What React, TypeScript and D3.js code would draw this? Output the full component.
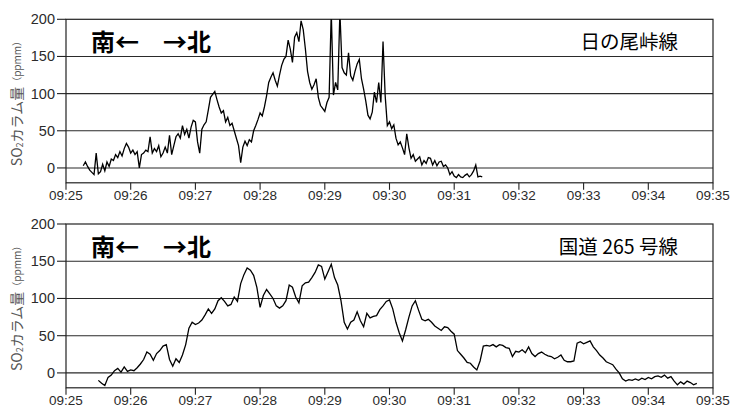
import React from "react";
import * as d3 from "d3";

// ---------- data ----------
const timeTickLabels = ["09:25", "09:26", "09:27", "09:28", "09:29", "09:30", "09:31", "09:32", "09:33", "09:34", "09:35"];
const yTickValues = [0, 50, 100, 150, 200];
const gridValues = [0, 50, 100, 150];
const yDomain = [-20, 200];

const directionLabel = "南←　→北";
const panelTitles = ["日の尾峠線", "国道 265 号線"];

// 日の尾峠線: samples every 2 s starting 09:25:16
const topStartSec = 16;
const topStepSec = 2;
const topValues = [
  3, 8, 2, -3, -6, -9, 20, -8, -5, 5, -4, 8, 2, 12, 10, 18, 14, 22, 16, 26,
  33, 28, 20, 24, 18, 22, 0, 18, 20, 24, 22, 42, 20, 26, 22, 30, 15, 20, 28, 20,
  44, 18, 30, 42, 46, 40, 57, 45, 52, 40, 55, 64, 62, 35, 20, 52, 58, 62, 78, 95,
  99, 103, 92, 82, 74, 77, 62, 68, 57, 60, 50, 40, 30, 7, 28, 36, 30, 38, 35, 50,
  57, 65, 74, 70, 82, 97, 115, 122, 128, 118, 110, 125, 138, 146, 150, 172, 160, 142, 176, 182,
  170, 198, 186, 160, 130, 115, 106, 112, 120, 95, 84, 80, 76, 88, 95, 210, 98, 115, 105, 210,
  135, 128, 125, 155, 124, 118, 130, 140, 146, 120, 106, 90, 71, 66, 75, 102, 88, 115, 88, 170,
  97, 57, 62, 53, 58, 40, 31, 35, 27, 18, 46, 27, 13, 18, 9, 12, 15, 4, 10, 6,
  14, 13, 4, 10, 3, 8, 9, 2, 4, 0, -9, -5, -11, -13, -9, -12, -13, -10, -8, -12,
  -9, -4, 4, -12, -11, -12,
];

// 国道 265 号線: samples every 3 s starting 09:25:30
const bottomStartSec = 30;
const bottomStepSec = 3;
const bottomValues = [
  -10, -14, -17, -6, -3, 3, 6, 1, 8, 2, 4, 3, 7, 12, 18, 28, 25, 17, 26, 30,
  36, 38, 18, 9, 19, 14, 24, 38, 60, 68, 65, 67, 71, 78, 86, 80, 86, 97, 101, 96,
  90, 92, 102, 96, 120, 132, 141, 138, 131, 115, 88, 104, 112, 106, 100, 90, 87, 90, 97, 118,
  115, 102, 94, 117, 121, 122, 128, 135, 145, 143, 126, 136, 146, 128, 118, 97, 68, 59, 68, 71,
  82, 70, 62, 80, 74, 76, 77, 85, 90, 96, 98, 86, 68, 54, 43, 58, 75, 90, 97, 84,
  72, 70, 72, 68, 63, 60, 57, 62, 61, 56, 52, 30, 25, 20, 14, 13, 8, 4, 16, 36,
  37, 36, 38, 35, 38, 37, 34, 33, 22, 29, 28, 31, 27, 35, 26, 22, 26, 28, 25, 23,
  22, 19, 21, 24, 17, 15, 15, 16, 40, 42, 39, 41, 43, 35, 30, 24, 20, 15, 13, 11,
  5, 0, -8, -11, -9, -10, -8, -10, -7, -9, -6, -8, -5, -4, -6, -3, -7, -5, -11, -16,
  -12, -15, -11, -13, -16, -14,
];

// ---------- layout ----------
const W = 733;
const H = 408;
const plotLeft = 66;
const plotRight = 713;
const panels = [
  { top: 19.3, bottom: 182.8, startSec: topStartSec, stepSec: topStepSec, values: topValues, title: panelTitles[0] },
  { top: 224, bottom: 387.8, startSec: bottomStartSec, stepSec: bottomStepSec, values: bottomValues, title: panelTitles[1] },
];

const base = new Date(2000, 0, 1, 9, 25, 0);
const toDate = (sec: number) => new Date(base.getTime() + sec * 1000);
const parseHM = d3.timeParse("%H:%M");
const tickDates = timeTickLabels.map((t) => {
  const p = parseHM(t)!;
  return new Date(2000, 0, 1, p.getHours(), p.getMinutes(), 0);
});

const x = d3
  .scaleTime()
  .domain([tickDates[0], tickDates[tickDates.length - 1]])
  .range([plotLeft, plotRight]);

const fmt = d3.timeFormat("%H:%M");

const latin = "'Liberation Sans', Arial, sans-serif";
const cjk = "'Noto Sans CJK JP', 'Noto Sans', sans-serif";

function Panel({ idx }: { idx: number }) {
  const p = panels[idx];
  const y = d3.scaleLinear().domain(yDomain).range([p.bottom, p.top]);
  const pts = p.values.map((v, i) => ({ t: toDate(p.startSec + i * p.stepSec), v }));
  const line = d3
    .line<{ t: Date; v: number }>()
    .x((d) => x(d.t))
    .y((d) => y(d.v));
  const clipId = `clip-${idx}`;
  const midY = (p.top + p.bottom) / 2;
  return (
    <g>
      <defs>
        <clipPath id={clipId}>
          <rect x={plotLeft} y={p.top} width={plotRight - plotLeft} height={p.bottom - p.top} />
        </clipPath>
      </defs>
      {/* grid lines */}
      {gridValues.map((g) => (
        <line key={g} x1={plotLeft} x2={plotRight} y1={y(g)} y2={y(g)} stroke="#2a2a2a" strokeWidth={1.1} />
      ))}
      {/* frame */}
      <rect x={plotLeft} y={p.top} width={plotRight - plotLeft} height={p.bottom - p.top} fill="none" stroke="#222" strokeWidth={1.2} />
      {/* y ticks */}
      {yTickValues.map((v) => (
        <g key={v}>
          <line x1={plotLeft - 9} x2={plotLeft} y1={y(v)} y2={y(v)} stroke="#222" strokeWidth={1.1} />
          <text x={plotLeft - 11} y={y(v)} textAnchor="end" dominantBaseline="central" fontFamily={latin} fontSize={14.5} fill="#2b2b2b">
            {v}
          </text>
        </g>
      ))}
      {/* x ticks */}
      {tickDates.map((d, i) => (
        <g key={i}>
          <line x1={x(d)} x2={x(d)} y1={p.bottom} y2={p.bottom + 7} stroke="#222" strokeWidth={1.1} />
          <text x={x(d)} y={p.bottom + 17} textAnchor="middle" fontFamily={latin} fontSize={13.5} fill="#2b2b2b">
            {fmt(d)}
          </text>
        </g>
      ))}
      {/* data line */}
      <path d={line(pts) || ""} fill="none" stroke="#000" strokeWidth={1.3} clipPath={`url(#${clipId})`} strokeLinejoin="miter" />
      {/* annotations */}
      <text x={91} y={p.top + 21.5} dominantBaseline="central" fontFamily={cjk} fontWeight={700} fontSize={24} fill="#000">
        {directionLabel}
      </text>
      <text x={678} y={p.top + 21} textAnchor="end" dominantBaseline="central" fontFamily={cjk} fontSize={19.5} fill="#000">
        {p.title}
      </text>
      {/* y axis title */}
      <text transform={`translate(16, ${midY}) rotate(-90)`} textAnchor="middle" dominantBaseline="central" fontFamily={cjk} fontSize={14} fill="#555">
        <tspan>SO</tspan>
        <tspan fontSize={9} dy={3}>2</tspan>
        <tspan dy={-3}>カラム量</tspan>
        <tspan fontSize={10}>（ppmm）</tspan>
      </text>
    </g>
  );
}

export default function App() {
  return (
    <svg width={W} height={H} viewBox={`0 0 ${W} ${H}`} style={{ position: "fixed", left: 0, top: 0, background: "#fff" }}>
      <rect x={0} y={0} width={W} height={H} fill="#fff" />
      <Panel idx={0} />
      <Panel idx={1} />
    </svg>
  );
}
